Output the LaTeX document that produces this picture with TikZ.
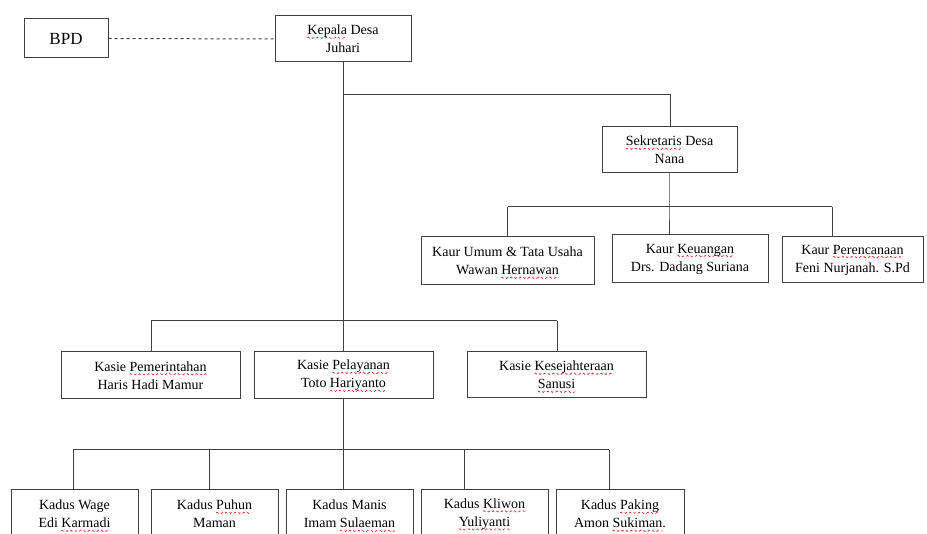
\documentclass[tikz,border=0pt]{standalone}
\usepackage{fontspec}
\setmainfont{Liberation Serif}
\usetikzlibrary{calc,decorations.pathmorphing}
\newsavebox\sqbox
\newlength\sqwd
\newcommand\sq[1]{\savebox\sqbox{#1}\setlength\sqwd{\wd\sqbox}\leavevmode\rlap{\usebox\sqbox}\begin{tikzpicture}[baseline=0pt,x=1pt,y=1pt]\path[use as bounding box] (0,0) rectangle (\sqwd,0);\draw[draw=red!85!black,line width=0.5pt,dashed=false,decorate,decoration={snake,amplitude=0.7pt,segment length=3pt}] (0,-3) -- (\sqwd,-3);\end{tikzpicture}}
\tikzset{
  box/.style={draw=black!75, line width=1pt, fill=white, align=center, inner sep=0pt,
    font=\fontsize{14}{18}\selectfont},
  link/.style={draw=black!75, line width=1pt},
}
\begin{document}
\begin{tikzpicture}[x=1pt,y=-1pt]
\useasboundingbox (0,0) rectangle (927,534);
\clip (0,0) rectangle (927,534);
% top
\node[box, minimum width=84pt, minimum height=39pt, font=\fontsize{17}{20}\selectfont] (bpd) at (66,38.5) {BPD};
\node[box, minimum width=136pt, minimum height=46pt] (kepala) at (343,39) {\sq{Kepala} Desa\\Juhari};
\node[box, minimum width=135pt, minimum height=46pt] (sek) at (669.5,150) {\sq{Sekretaris} Desa\\Nana};
% kaur
\node[box, minimum width=173pt, minimum height=48pt] (kaur1) at (507.5,261) {Kaur Umum \& Tata Usaha\\Wawan \sq{Hernawan}};
\node[box, minimum width=156pt, minimum height=48pt] (kaur2) at (690,259) {Kaur \sq{Keuangan}\\Drs. Dadang Suriana};
\node[box, minimum width=141pt, minimum height=46pt] (kaur3) at (852.5,260) {Kaur \sq{Perencanaan}\\Feni Nurjanah. S.Pd};
% kasie
\node[box, minimum width=179pt, minimum height=47pt] (kasie1) at (150.5,375.5) {Kasie \sq{Pemerintahan}\\Haris Hadi Mamur};
\node[box, minimum width=179pt, minimum height=47pt] (kasie2) at (343.5,375.5) {Kasie \sq{Pelayanan}\\Toto \sq{Hariyanto}};
\node[box, minimum width=179pt, minimum height=46pt] (kasie3) at (556.5,375) {Kasie \sq{Kesejahteraan}\\\sq{Sanusi}};
% kadus
\node[box, minimum width=127pt, minimum height=48pt] (kadus1) at (74.5,514) {Kadus Wage\\Edi \sq{Karmadi}};
\node[box, minimum width=127pt, minimum height=48pt] (kadus2) at (214.5,514) {Kadus \sq{Puhun}\\Maman};
\node[box, minimum width=127pt, minimum height=48pt] (kadus3) at (349.5,514) {Kadus Manis\\Imam \sq{Sulaeman}};
\node[box, minimum width=127pt, minimum height=48pt] (kadus4) at (484.5,514) {Kadus \sq{Kliwon}\\\sq{Yuliyanti}};
\node[box, minimum width=128pt, minimum height=48pt] (kadus5) at (620,514) {Kadus \sq{Paking}\\Amon \sq{Sukiman}.};
% bus coordinates
\coordinate (b0) at (343,95);
\coordinate (b0r) at (670,95);
\coordinate (k1) at (507.5,207);
\coordinate (k2) at (669,207);
\coordinate (k3) at (832,207);
\coordinate (s1) at (151,321);
\coordinate (s2) at (343,321);
\coordinate (s3) at (557,321);
\coordinate (d1) at (73,450);
\coordinate (d2) at (209,450);
\coordinate (d3) at (343,450);
\coordinate (d4) at (464,450);
\coordinate (d5) at (609,450);
% connectors
\draw[link, dashed] (bpd.east) -- (kepala.west);
\draw[link] (kepala.south) -- (kepala.south |- kasie2.north);
\draw[link] (b0) -- (b0r) -- (b0r |- sek.north);
\draw[link] (k2 |- sek.south) -- (k2) -- (k2 |- kaur2.north);
\draw[link] (k1) -- (k3);
\draw[link] (k1) -- (k1 |- kaur1.north);
\draw[link] (k3) -- (k3 |- kaur3.north);
\draw[link] (s1) -- (s3);
\draw[link] (s1) -- (s1 |- kasie1.north);
\draw[link] (s3) -- (s3 |- kasie3.north);
\draw[link] (d3 |- kasie2.south) -- (d3 |- kadus3.north);
\draw[link] (d1) -- (d5);
\draw[link] (d1) -- (d1 |- kadus1.north);
\draw[link] (d2) -- (d2 |- kadus2.north);
\draw[link] (d4) -- (d4 |- kadus4.north);
\draw[link] (d5) -- (d5 |- kadus5.north);
\end{tikzpicture}
\end{document}
